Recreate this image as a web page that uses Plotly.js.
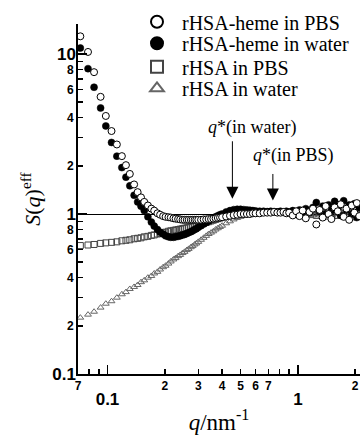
<!DOCTYPE html>
<html>
<head>
<meta charset="utf-8">
<script src="https://cdn.plot.ly/plotly-3.0.1.min.js"></script>
<style>html,body{margin:0;padding:0;background:#fff;}#chart{width:360px;height:439px;}</style>
</head>
<body>
<div id="chart"></div>
<script>
// ---- data ----
const q = [
  0.072,0.079,0.085,0.092,0.098,0.105,0.112,0.119,0.125,0.131,
  0.138,0.144,0.150,0.156,0.163,0.170,0.176,0.183,0.189,0.196,
  0.202,0.209,0.215,0.222,0.228,0.235,0.241,0.248,0.254,0.261,
  0.267,0.274,0.280,0.287,0.293,0.300,0.31,0.32,0.33,0.34,
  0.35,0.36,0.37,0.38,0.39,0.40,0.42,0.44,0.46,0.48,
  0.50,0.52,0.54,0.56,0.58,0.60,0.63,0.66,0.69,0.72,
  0.75,0.78,0.81,0.84,0.87,0.90,0.94,0.98,1.02,1.06,
  1.10,1.15,1.20,1.25,1.30,1.35,1.40,1.45,1.50,1.56,
  1.62,1.68,1.74,1.80,1.86,1.92,1.98,2.04,2.10
];
const sHemePBS = [
  12.9,10.3,7.7,5.4,4.1,3.3,2.72,2.30,2.02,1.78,
  1.53,1.37,1.27,1.19,1.13,1.08,1.05,1.01,0.99,0.97,
  0.96,0.955,0.95,0.94,0.935,0.93,0.925,0.92,0.92,0.92,
  0.92,0.92,0.92,0.92,0.92,0.92,0.92,0.925,0.925,0.93,
  0.93,0.935,0.94,0.945,0.95,0.955,0.965,0.975,0.985,0.99,
  1.0,1.0,1.0,1.0,1.01,1.01,1.01,1.02,1.02,1.02,
  1.03,1.02,1.02,1.03,1.01,1.02,0.98,1.04,0.97,1.05,
  0.94,1.03,1.08,0.86,1.06,0.95,1.12,1.0,0.93,1.1,
  1.04,1.15,0.96,1.08,0.92,1.13,1.02,1.17,0.97
];
const sHemeWater = [
  10.9,8.1,6.2,4.6,3.55,2.8,2.3,1.95,1.70,1.50,
  1.31,1.19,1.12,1.05,0.96,0.89,0.84,0.80,0.77,0.75,
  0.73,0.72,0.715,0.715,0.72,0.725,0.73,0.74,0.745,0.755,
  0.765,0.775,0.785,0.80,0.81,0.825,0.845,0.865,0.885,0.905,
  0.925,0.945,0.96,0.975,0.99,1.0,1.03,1.05,1.065,1.07,
  1.07,1.065,1.06,1.055,1.05,1.045,1.04,1.04,1.035,1.04,
  1.035,1.03,1.04,1.03,1.04,1.03,1.05,1.02,1.06,1.03,
  1.08,1.02,1.1,1.18,1.04,1.12,1.0,1.14,1.05,1.2,
  1.08,0.98,1.21,1.06,1.14,1.0,1.16,0.95,1.1
];
const sPBS = [
  0.635,0.64,0.645,0.655,0.66,0.665,0.67,0.68,0.685,0.69,
  0.70,0.705,0.71,0.72,0.725,0.735,0.74,0.75,0.755,0.765,
  0.77,0.78,0.785,0.79,0.795,0.80,0.805,0.81,0.815,0.82,
  0.825,0.83,0.84,0.845,0.85,0.855,0.865,0.875,0.885,0.895,
  0.905,0.915,0.925,0.935,0.945,0.95,0.965,0.975,0.985,0.99,
  1.0,1.0,1.005,1.01,1.01,1.015,1.02,1.02,1.025,1.03,
  1.03,1.03,1.025,1.02,1.02,1.015,1.01,1.02,1.0,1.01,
  0.99,1.02,1.0,0.98,1.03,1.0,0.97,1.04,1.0,0.98,
  1.05,1.0,0.97,1.04,1.0,0.96,1.05,1.0,0.98
];
const sWater = [
  0.225,0.235,0.245,0.26,0.275,0.285,0.30,0.315,0.325,0.34,
  0.35,0.36,0.375,0.385,0.40,0.41,0.425,0.435,0.45,0.465,
  0.475,0.49,0.505,0.52,0.53,0.545,0.555,0.57,0.58,0.595,
  0.605,0.62,0.63,0.645,0.655,0.67,0.69,0.71,0.73,0.75,
  0.765,0.78,0.80,0.815,0.83,0.845,0.875,0.90,0.925,0.945,
  0.96,0.975,0.985,0.995,1.0,1.005,1.01,1.015,1.02,1.02,
  1.02,1.015,1.02,1.01,1.015,1.01,1.0,1.02,0.99,1.01,
  1.0,0.97,1.03,1.0,0.98,1.04,1.01,0.97,1.03,1.0,
  0.96,1.04,1.01,0.97,1.05,0.99,0.97,1.03,1.0
];
const seriesNames = ['rHSA-heme in PBS','rHSA-heme in water','rHSA in PBS','rHSA in water'];

// tick labels
const xMinorVals = [0.07,0.2,0.3,0.4,0.5,0.6,0.7,2];
const xMinorText = ['7','2','3','4','5','6','7','2'];
const xBareVals  = [0.08,0.09,0.8,0.9];
const xMajorVals = [0.1,1];
const xMajorText = ['0.1','1'];
const yMinorVals = [0.2,0.4,0.6,0.8,2,4,6,8];
const yMinorText = ['2','4','6','8','2','4','6','8'];
const yBareVals  = [0.3,0.5,0.7,0.9,3,5,7,9];
const yMajorVals = [0.1,1,10];
const yMajorText = ['0.1','1','10'];
const refLevel = [1];

// annotations: q* arrows
const qStar = [0.453, 0.739];
const qStarTip = [1.245, 1.215];
const qStarLabels = ['<i>q</i>*(in water)', '<i>q</i>*(in PBS)'];

const xRange = [Math.log10(0.07), Math.log10(2.12)];
const yRange = [-1, Math.log10(15.4)];
const tickFam = 'Liberation Sans, Arial, sans-serif';
const serif = 'Liberation Serif, Times New Roman, serif';

const traces = [
  {x:q, y:sWater, name:seriesNames[3], legend:'legend4', type:'scatter', mode:'markers',
   marker:{symbol:'triangle-up-open', size:6, color:'#666', line:{width:1, color:'#666'}}},
  {x:q, y:sPBS, name:seriesNames[2], legend:'legend3', type:'scatter', mode:'markers',
   marker:{symbol:'square-open', size:6, color:'#444', line:{width:1, color:'#444'}}},
  {x:q, y:sHemeWater, name:seriesNames[1], legend:'legend2', type:'scatter', mode:'markers',
   marker:{symbol:'circle', size:7, color:'black', line:{width:0.5, color:'black'}}},
  {x:q, y:sHemePBS, name:seriesNames[0], legend:'legend', type:'scatter', mode:'markers',
   marker:{symbol:'circle', size:7, color:'white', line:{width:1, color:'black'}}},
  {x:[], y:[], xaxis:'x2', yaxis:'y2', showlegend:false, hoverinfo:'skip', type:'scatter'},
  {x:[], y:[], xaxis:'x', yaxis:'y3', showlegend:false, hoverinfo:'skip', type:'scatter'}
];

function legendAt(py){
  return {x:(132-78)/282, xanchor:'left', y:(374-py)/350, yanchor:'middle',
    bgcolor:'rgba(0,0,0,0)', borderwidth:0, itemsizing:'constant', itemwidth:40,
    font:{family:serif, size:20, color:'black'}};
}

const annotations = [];
for (let i=0;i<qStar.length;i++){
  annotations.push({x:Math.log10(qStar[i]), y:Math.log10(qStarTip[i]), xref:'x', yref:'y',
    text:'', showarrow:true, arrowhead:2, arrowsize:2.4, arrowwidth:1, arrowcolor:'black',
    ax:0, ay:(i===0?-59:-28)});
}
annotations.push({x:-0.2416, y:0.5406, xref:'x', yref:'y', text:qStarLabels[0], showarrow:false,
  font:{family:serif, size:18, color:'black'}, xanchor:'center', yanchor:'middle'});
annotations.push({x:-0.0231, y:0.3656, xref:'x', yref:'y', text:qStarLabels[1], showarrow:false,
  font:{family:serif, size:18, color:'black'}, xanchor:'center', yanchor:'middle'});

const layout = {
  width:360, height:439,
  margin:{l:78, r:0, t:24, b:65, pad:0},
  paper_bgcolor:'white', plot_bgcolor:'white',
  showlegend:true,
  legend:legendAt(21.7), legend2:legendAt(43.3), legend3:legendAt(66.7), legend4:legendAt(88.3),
  xaxis:{type:'log', range:xRange, showline:true, linecolor:'black', linewidth:2,
    ticks:'inside', ticklen:5, tickwidth:1.5, tickcolor:'black',
    tickmode:'array', tickvals:xMinorVals, ticktext:xMinorText,
    tickfont:{family:tickFam, size:12, color:'black', weight:'bold'}, ticklabelstandoff:0,
    showgrid:false, zeroline:false,
    minor:{tickmode:'array', tickvals:xBareVals, ticks:'inside', ticklen:5, tickwidth:1.5, tickcolor:'black', showgrid:false}},
  xaxis2:{type:'log', range:xRange, overlaying:'x', anchor:'y', side:'bottom', showline:false,
    ticks:'inside', ticklen:9, tickwidth:1.5, tickcolor:'black',
    tickmode:'array', tickvals:xMajorVals, ticktext:xMajorText,
    tickfont:{family:tickFam, size:17, color:'black', weight:'bold'}, ticklabelstandoff:13,
    showgrid:false, zeroline:false,
    title:{text:'<i>q</i>/nm<sup>-1</sup>', font:{family:serif, size:23, color:'black'}, standoff:5}},
  yaxis:{type:'log', range:yRange, showline:true, linecolor:'black', linewidth:2,
    ticks:'inside', ticklen:5, tickwidth:1.5, tickcolor:'black',
    tickmode:'array', tickvals:yMinorVals, ticktext:yMinorText,
    tickfont:{family:tickFam, size:12, color:'black', weight:'bold'}, ticklabelstandoff:0,
    showgrid:false, zeroline:false,
    minor:{tickmode:'array', tickvals:yBareVals, ticks:'inside', ticklen:5, tickwidth:1.5, tickcolor:'black', showgrid:false}},
  yaxis2:{type:'log', range:yRange, overlaying:'y', anchor:'x', side:'left', showline:false,
    ticks:'inside', ticklen:9, tickwidth:1.5, tickcolor:'black',
    tickmode:'array', tickvals:yMajorVals, ticktext:yMajorText,
    tickfont:{family:tickFam, size:17, color:'black', weight:'bold'}, ticklabelstandoff:1,
    showgrid:false, zeroline:false,
    title:{text:'<i>S</i>(<i>q</i>)<sup>eff</sup>', font:{family:serif, size:22, color:'black'}, standoff:5}},
  yaxis3:{type:'log', range:yRange, overlaying:'y', anchor:'x', side:'left', showline:false,
    tickmode:'array', tickvals:refLevel, ticks:'', showticklabels:false,
    showgrid:true, gridcolor:'black', gridwidth:1, zeroline:false},
  annotations:annotations
};

Plotly.newPlot('chart', traces, layout, {staticPlot:true, displayModeBar:false});
</script>
</body>
</html>
